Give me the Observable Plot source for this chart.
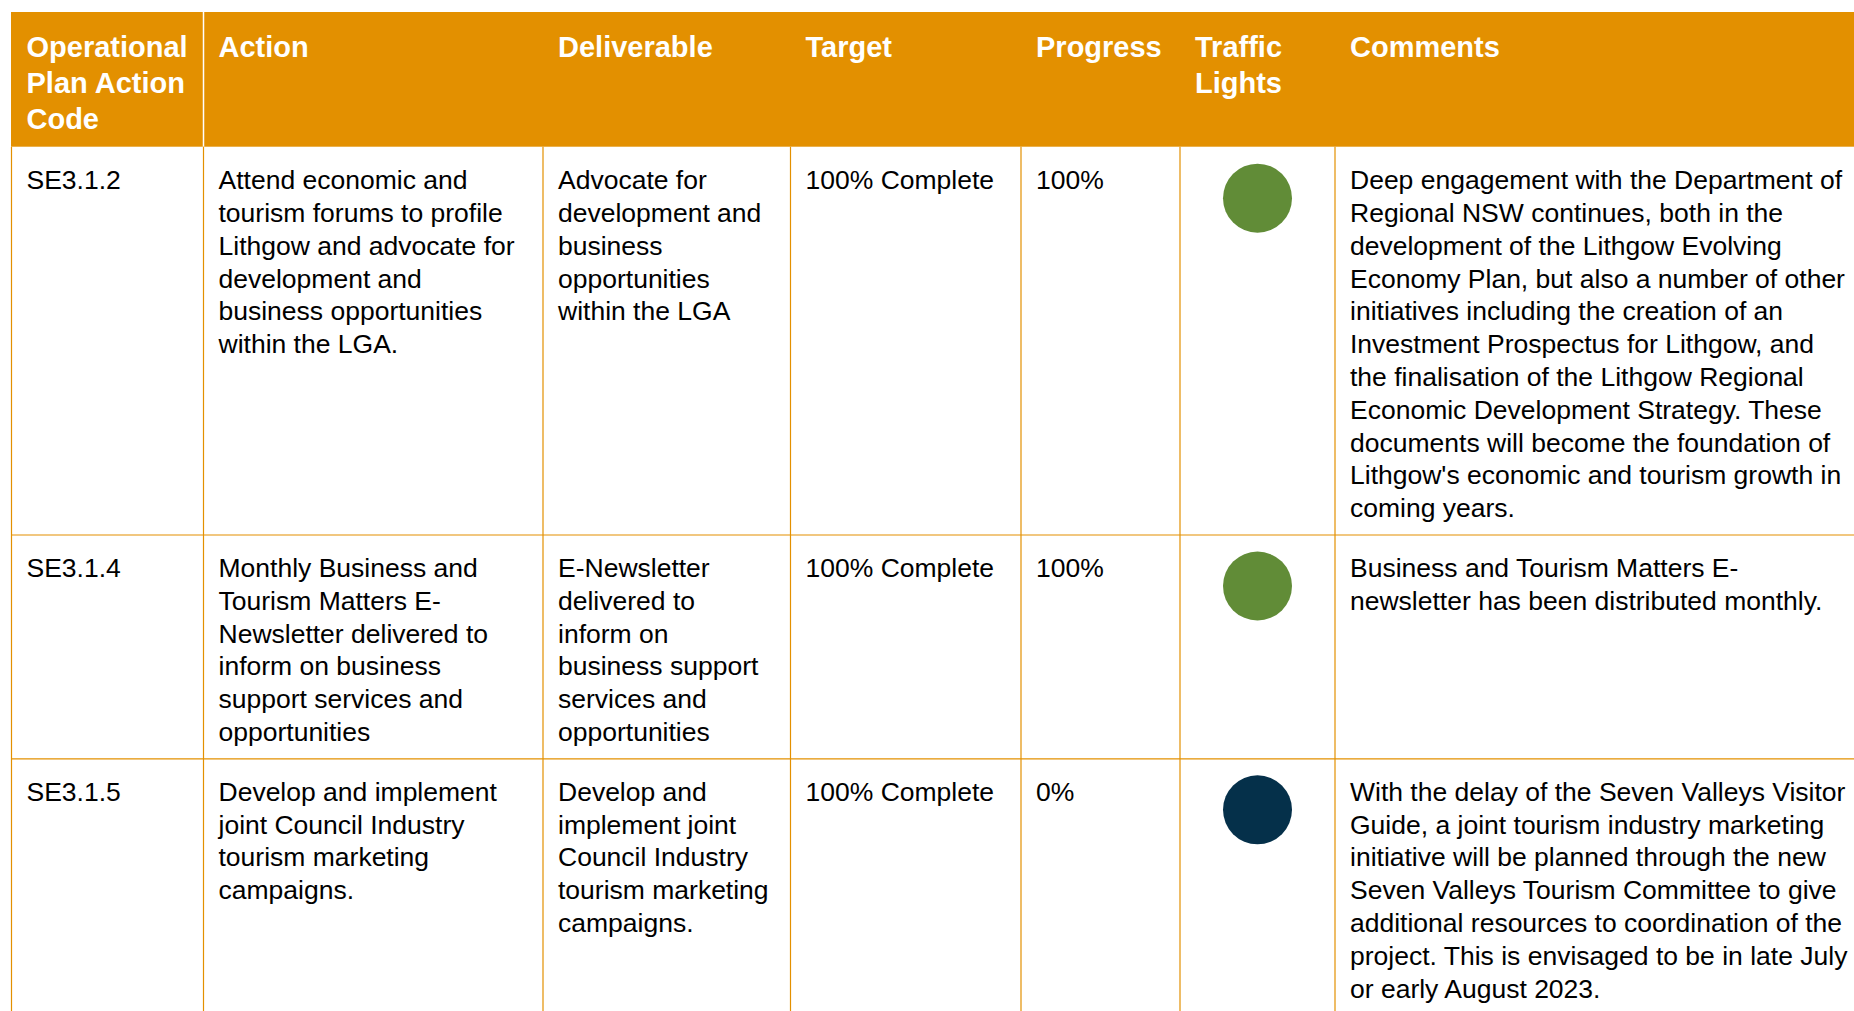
<!DOCTYPE html>
<html>
<head>
<meta charset="utf-8">
<script src="https://cdn.jsdelivr.net/npm/d3@7"></script>
<script src="https://cdn.jsdelivr.net/npm/@observablehq/plot@0.6"></script>
<style>
  html, body { margin: 0; padding: 0; background: #fff; overflow: hidden; }
  #chart svg { display: block; }
</style>
</head>
<body>
<div id="chart"></div>
<script>
// ---------- DATA ----------
const headers = ["Operational\nPlan Action\nCode", "Action", "Deliverable", "Target", "Progress", "Traffic\nLights", "Comments"];

const codes = ["SE3.1.2", "SE3.1.4", "SE3.1.5"];

const actions = [
  "Attend economic and\ntourism forums to profile\nLithgow and advocate for\ndevelopment and\nbusiness opportunities\nwithin the LGA.",
  "Monthly Business and\nTourism Matters E-\nNewsletter delivered to\ninform on business\nsupport services and\nopportunities",
  "Develop and implement\njoint Council Industry\ntourism marketing\ncampaigns."
];

const deliverables = [
  "Advocate for\ndevelopment and\nbusiness\nopportunities\nwithin the LGA",
  "E-Newsletter\ndelivered to\ninform on\nbusiness support\nservices and\nopportunities",
  "Develop and\nimplement joint\nCouncil Industry\ntourism marketing\ncampaigns."
];

const targets = ["100% Complete", "100% Complete", "100% Complete"];

const progress = ["100%", "100%", "0%"];

// traffic light status (categorical, coloured through the colour scale)
const trafficLights = ["Complete", "Complete", "Not commenced"];
const lightStatuses = ["Complete", "Not commenced"];

const comments = [
  "Deep engagement with the Department of\nRegional NSW continues, both in the\ndevelopment of the Lithgow Evolving\nEconomy Plan, but also a number of other\ninitiatives including the creation of an\nInvestment Prospectus for Lithgow, and\nthe finalisation of the Lithgow Regional\nEconomic Development Strategy. These\ndocuments will become the foundation of\nLithgow's economic and tourism growth in\ncoming years.",
  "Business and Tourism Matters E-\nnewsletter has been distributed monthly.",
  "With the delay of the Seven Valleys Visitor\nGuide, a joint tourism industry marketing\ninitiative will be planned through the new\nSeven Valleys Tourism Committee to give\nadditional resources to coordination of the\nproject. This is envisaged to be in late July\nor early August 2023."
];

// ---------- LAYOUT (not data) ----------
const W = 1854, H = 1011;
const colEdges = [11, 203, 542.5, 790, 1020.5, 1179.5, 1334.5, W];
const padX = 15;
const headerTop = 12;
const headFont = 29, headLH = 36.3;
const bodyFont = 26.5, bodyLH = 32.8;
const headFirstBaseline = 44;   // from header top
const bodyFirstBaseline = 42;   // from row top
const bottomPad = 17.8;
const headerBottom = headerTop + headFirstBaseline + 2 * headLH + 18.1;
const orange = "#E39000";
const lightColors = ["#618C37", "#05304A"];
const FONT = "'Liberation Sans', Arial, Helvetica, sans-serif";

// rows built from the arrays
const rows = codes.map((code, i) => ({
  cells: [code, actions[i], deliverables[i], targets[i], progress[i], null, comments[i]],
  light: trafficLights[i]
}));

// row tops from content line counts
const rowTops = [headerBottom];
rows.forEach((r, i) => {
  const n = d3.max(r.cells.filter(c => c != null), c => c.split("\n").length);
  rowTops.push(rowTops[i] + bodyFirstBaseline + (n - 1) * bodyLH + bottomPad);
});

const headerCells = headers.map((t, c) => ({
  text: t,
  x: colEdges[c] + padX,
  y: headerTop + headFirstBaseline - 0.71 * headLH
}));

const bodyCells = [];
rows.forEach((r, i) => {
  r.cells.forEach((t, c) => {
    if (t == null) return;
    bodyCells.push({text: t, x: colEdges[c] + padX, y: rowTops[i] + bodyFirstBaseline - 0.71 * bodyLH});
  });
});

const lightData = rows.map((r, i) => ({
  light: r.light,
  x: (colEdges[5] + colEdges[6]) / 2,
  y: rowTops[i] + 51
}));

const hLines = rowTops.slice(1).filter(y => y < H).map(y => ({y}));
const vLines = colEdges.slice(0, -1).map(x => ({x}));

const chart = Plot.plot({
  width: W,
  height: H,
  margin: 0,
  x: {domain: [0, W], range: [0, W], axis: null},
  y: {domain: [0, H], range: [0, H], axis: null},
  color: {type: "ordinal", domain: lightStatuses, range: lightColors},
  style: {fontFamily: FONT, background: "#fff", overflow: "hidden"},
  marks: [
    // header band
    Plot.rect([{x1: colEdges[0], x2: W, y1: headerTop, y2: headerBottom}], {
      x1: "x1", x2: "x2", y1: "y1", y2: "y2", fill: orange
    }),
    // white divider inside header after the first column
    Plot.ruleX([{x: colEdges[1]}], {x: "x", y1: headerTop, y2: headerBottom, stroke: "#fff", strokeWidth: 1.5}),
    // vertical cell borders
    Plot.ruleX(vLines, {x: "x", y1: headerBottom, y2: H, stroke: orange, strokeWidth: 1.2}),
    // horizontal row borders
    Plot.ruleY(hLines, {y: "y", x1: colEdges[0], x2: W, stroke: orange, strokeWidth: 1.2}),
    // header texts
    Plot.text(headerCells, {
      x: "x", y: "y", text: "text",
      textAnchor: "start", lineAnchor: "top",
      fontSize: headFont, lineHeight: headLH / headFont,
      fontWeight: "bold", fill: "#fff"
    }),
    // body texts
    Plot.text(bodyCells, {
      x: "x", y: "y", text: "text",
      textAnchor: "start", lineAnchor: "top",
      fontSize: bodyFont, lineHeight: bodyLH / bodyFont,
      fill: "#000"
    }),
    // traffic lights
    Plot.dot(lightData, {x: "x", y: "y", r: 34.5, fill: "light", stroke: null})
  ]
});

document.getElementById("chart").appendChild(chart);
</script>
</body>
</html>
